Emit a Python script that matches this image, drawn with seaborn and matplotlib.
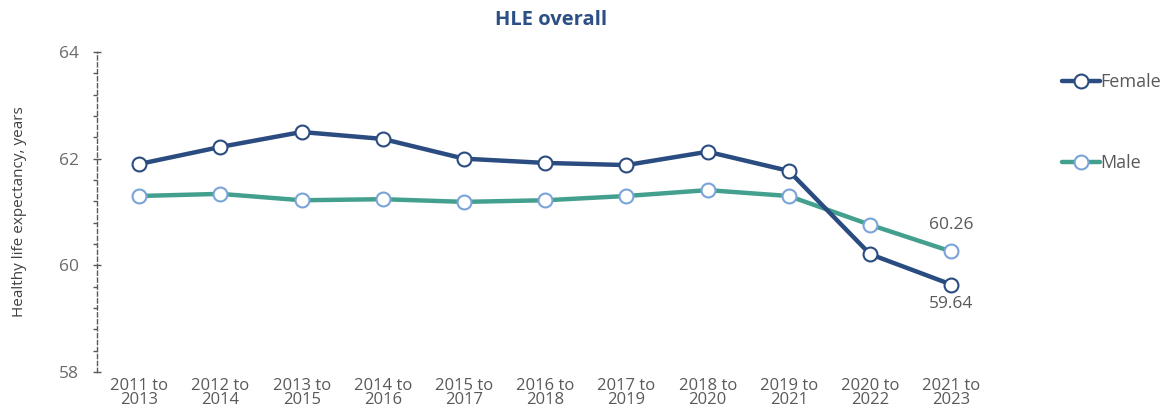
import matplotlib
matplotlib.use("Agg")
import matplotlib.pyplot as plt
from matplotlib.ticker import MultipleLocator
import seaborn as sns
import pandas as pd

periods = ["2011 to\n2013", "2012 to\n2014", "2013 to\n2015", "2014 to\n2016", "2015 to\n2017",
           "2016 to\n2018", "2017 to\n2019", "2018 to\n2020", "2019 to\n2021", "2020 to\n2022",
           "2021 to\n2023"]
female = [61.90, 62.22, 62.50, 62.37, 62.00, 61.92, 61.88, 62.13, 61.77, 60.21, 59.64]
male = [61.30, 61.34, 61.22, 61.24, 61.19, 61.22, 61.30, 61.41, 61.30, 60.76, 60.26]

sns.set_theme(style="white")
plt.rcParams['font.family'] = ['Open Sans', 'DejaVu Sans']

fig = plt.figure(figsize=(11.68, 4.17), dpi=100)
ax = fig.add_axes([97/1168, 1 - 372/417, (1000 - 97)/1168, (372 - 52)/417])

idx = list(range(len(periods)))
df_f = pd.DataFrame({"x": idx, "y": female})
df_m = pd.DataFrame({"x": idx, "y": male})

fcol = "#2b4c80"
mcol = "#44a08e"
sns.lineplot(data=df_m, x="x", y="y", ax=ax, color=mcol, linewidth=3.2, marker="o",
             markersize=10, markerfacecolor="white", markeredgecolor="#7aa3d8",
             markeredgewidth=1.5, label="Male", zorder=3)
sns.lineplot(data=df_f, x="x", y="y", ax=ax, color=fcol, linewidth=3.2, marker="o",
             markersize=10, markerfacecolor="white", markeredgecolor=fcol,
             markeredgewidth=1.5, label="Female", zorder=4)

ax.set_xlim(-0.52, 10.6)
ax.set_ylim(58, 64)
ax.set_xticks(idx)
ax.set_xticklabels(periods, fontsize=12, color="#595959", linespacing=0.9)
ax.set_yticks([58, 60, 62, 64])
ax.yaxis.set_minor_locator(MultipleLocator(0.4))
ax.tick_params(axis="y", which="major", left=True, length=6, width=1, color="#595959",
               labelsize=12.5, labelcolor="#6b6b6b", direction="inout", pad=10)
ax.tick_params(axis="y", which="minor", left=True, length=3, width=1, color="#595959")
ax.tick_params(axis="x", length=0, pad=4)
ax.set_xlabel("")
ax.set_ylabel("Healthy life expectancy, years", fontsize=11, color="#404040")
ax.yaxis.set_label_coords(-0.077, 0.5)

for s in ["top", "right", "bottom"]:
    ax.spines[s].set_visible(False)
ax.spines["left"].set_color("#595959")
ax.spines["left"].set_linestyle((0, (3, 2)))
ax.spines["left"].set_linewidth(1)

ax.annotate(f"{male[-1]:.2f}", (idx[-1], male[-1]), xytext=(0, 13), textcoords="offset points",
            ha="center", va="bottom", fontsize=12.5, color="#595959")
ax.annotate(f"{female[-1]:.2f}", (idx[-1], female[-1]), xytext=(0, -8), textcoords="offset points",
            ha="center", va="top", fontsize=12.5, color="#595959")

ax.legend_.remove()
handles, labels = ax.get_legend_handles_labels()
hmap = dict(zip(labels, handles))
for name, ypix in [("Female", 82), ("Male", 163)]:
    fig.legend([hmap[name]], [name], loc="center left", bbox_to_anchor=(1062/1168, 1 - ypix/417),
               frameon=False, fontsize=13, handlelength=2.1, handletextpad=0.0,
               borderaxespad=0, borderpad=0, labelcolor="#595959")

fig.text(551/1168, 1 - 20/417, "HLE overall", ha="center", va="center", fontsize=14.5,
         fontweight="bold", color="#2c4f86")

fig.savefig("out.png", dpi=100)
